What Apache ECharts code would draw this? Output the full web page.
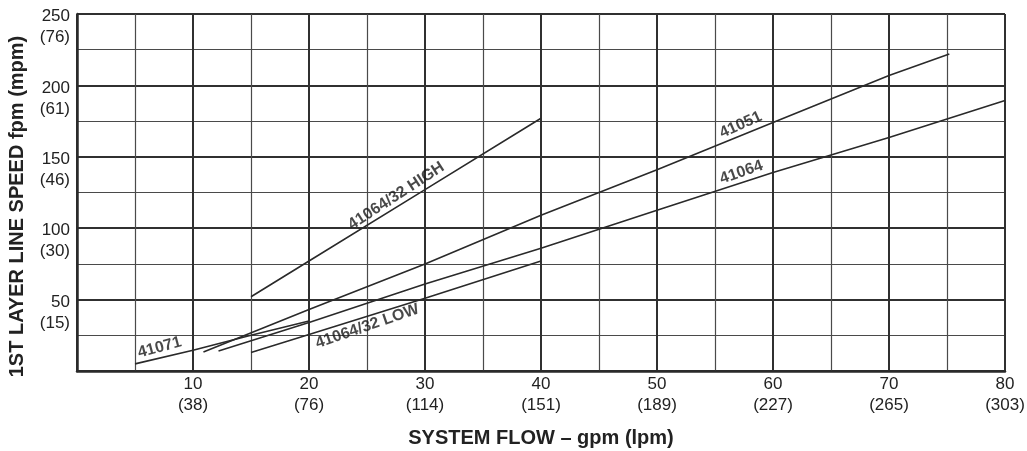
<!DOCTYPE html>
<html>
<head>
<meta charset="utf-8">
<script src="https://cdn.jsdelivr.net/npm/echarts@6/dist/echarts.min.js"></script>
<style>
html,body{margin:0;padding:0;background:#fff;}
#chart{width:1027px;height:451px;}
</style>
</head>
<body>
<div id="chart"></div>
<script>
// ---- data ----
const xTickValues = [10, 20, 30, 40, 50, 60, 70, 80];
const xTickMetric = ['(38)', '(76)', '(114)', '(151)', '(189)', '(227)', '(265)', '(303)'];
const yTickValues = [50, 100, 150, 200, 250];
const yTickMetric = ['(15)', '(30)', '(46)', '(61)', '(76)'];

const line41071 = [[5, 5], [10, 14.5], [15, 25], [20, 35]];
const line41051 = [[10.9, 13.3], [20, 43], [30, 75], [40, 109], [50, 141], [60, 174], [70, 207], [75.2, 222]];
const line41064 = [[12.2, 14], [20, 34], [30, 61], [40, 86], [50, 112.5], [60, 139], [70, 163.5], [80, 189.5]];
const line41064Low = [[15, 13], [20, 25.5], [30, 51], [40, 77]];
const line41064High = [[15, 52], [20, 77], [30, 127], [40, 177]];

// label anchor points on the curves
const curveLabels = [
  { text: '41071', at: [7.3, 9.6], rotate: 15, pos: 'top' },
  { text: '41064/32 LOW', at: [24.8, 38], rotate: 19, pos: 'bottom' },
  { text: '41064/32 HIGH', at: [27.9, 116.5], rotate: 33, pos: 'top' },
  { text: '41051', at: [57.5, 165.8], rotate: 24, pos: 'top' },
  { text: '41064', at: [57.5, 132.4], rotate: 19, pos: 'top' }
];

const INK = '#2a2a2a';
const FONT = '"Liberation Sans", Arial, Helvetica, sans-serif';

function lineSeries(name, data) {
  return {
    name: name, type: 'line', data: data, symbol: 'none', silent: true,
    lineStyle: { color: INK, width: 1.6 }, z: 5
  };
}

const chart = echarts.init(document.getElementById('chart'), null, { renderer: 'canvas' });
chart.setOption({
  animation: false,
  backgroundColor: '#ffffff',
  grid: { left: 77, right: 22, top: 14, bottom: 80, outerBoundsMode: 'none', containLabel: false },
  xAxis: {
    type: 'value', min: 0, max: 80, interval: 10,
    name: 'SYSTEM FLOW – gpm (lpm)', nameLocation: 'middle', nameGap: 57,
    nameTextStyle: { fontFamily: FONT, fontWeight: 'bold', fontSize: 20, color: '#222' },
    axisLine: { show: true, lineStyle: { color: INK, width: 2.5 } },
    axisTick: { show: false },
    minorTick: { show: false, splitNumber: 2 },
    splitLine: { show: true, lineStyle: { color: '#303030', width: 2 } },
    minorSplitLine: { show: true, lineStyle: { color: '#4a4a4a', width: 1.2 } },
    axisLabel: {
      margin: 3, fontFamily: FONT, fontSize: 17, color: '#222', lineHeight: 21,
      formatter: function (v) {
        const i = xTickValues.indexOf(v);
        return i < 0 ? '' : xTickValues[i] + '\n' + xTickMetric[i];
      }
    }
  },
  yAxis: {
    type: 'value', min: 0, max: 250, interval: 50,
    name: '1ST LAYER LINE SPEED fpm (mpm)', nameLocation: 'middle', nameGap: 50, nameRotate: 90,
    nameTextStyle: { fontFamily: FONT, fontWeight: 'bold', fontSize: 20, color: '#222', padding: [0, 28, 0, 0] },
    axisLine: { show: true, lineStyle: { color: INK, width: 2.5 } },
    axisTick: { show: false },
    minorTick: { show: false, splitNumber: 2 },
    splitLine: { show: true, lineStyle: { color: '#303030', width: 2 } },
    minorSplitLine: { show: true, lineStyle: { color: '#4a4a4a', width: 1.2 } },
    axisLabel: {
      margin: 7, fontFamily: FONT, fontSize: 17, color: '#222',
      formatter: function (v) {
        const i = yTickValues.indexOf(v);
        return i < 0 ? '' : '{s| }\n{a|' + yTickValues[i] + '}\n{a|' + yTickMetric[i] + '}';
      },
      rich: {
        s: { lineHeight: 26, fontSize: 10 },
        a: { lineHeight: 21, fontSize: 17, fontFamily: FONT, color: '#222' }
      }
    }
  },
  series: [
    lineSeries('41071', line41071),
    lineSeries('41051', line41051),
    lineSeries('41064', line41064),
    lineSeries('41064/32 LOW', line41064Low),
    lineSeries('41064/32 HIGH', line41064High),
    {
      type: 'scatter', symbolSize: 0, silent: true, z: 6,
      data: curveLabels.map(function (c) {
        return {
          value: c.at,
          label: {
            show: true, formatter: c.text, position: c.pos, distance: 2, rotate: c.rotate,
            fontFamily: FONT, fontWeight: 'bold', fontSize: 16, color: '#1a1a1a'
          }
        };
      })
    }
  ]
});
</script>
</body>
</html>
